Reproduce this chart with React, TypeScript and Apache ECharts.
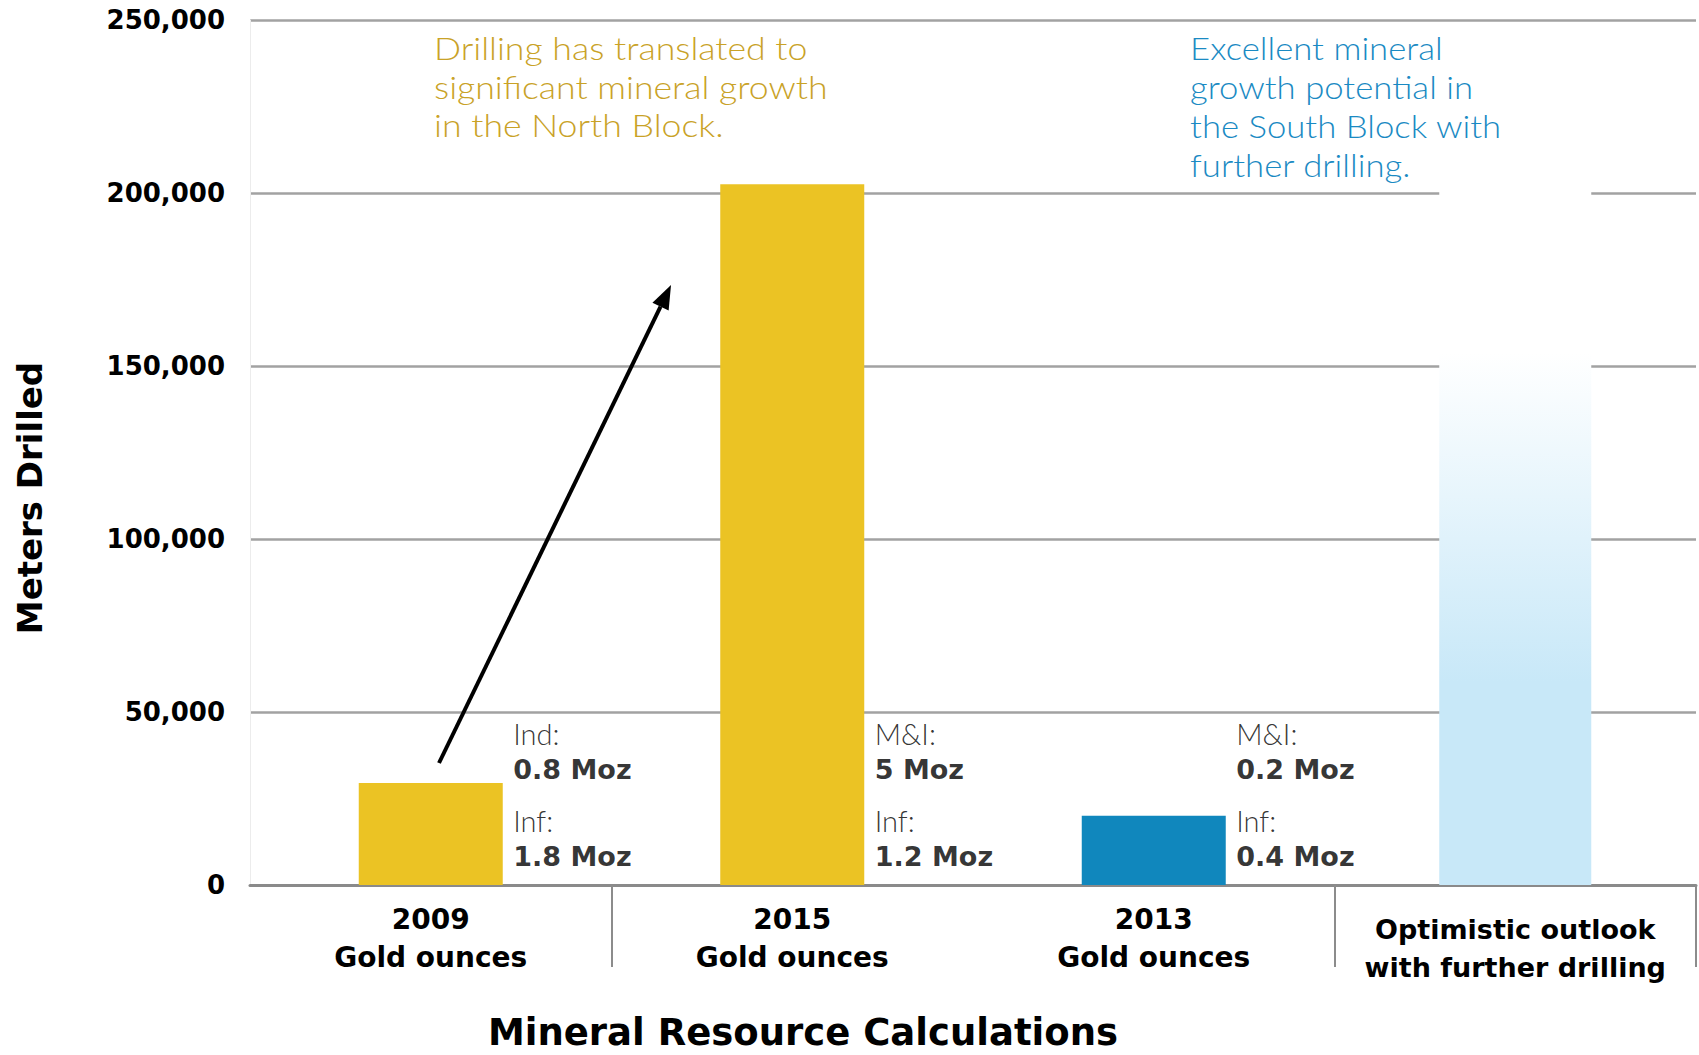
import React, { useEffect, useRef } from "react";
import * as echarts from "echarts";

// Drilling totals (metres) behind each mineral resource calculation
const categories = ["2009", "2015", "2013", "Optimistic"];
const categoryYears = ["2009", "2015", "2013"];
const categorySubtitle = "Gold ounces";
const outlookLabel = ["Optimistic outlook", "with further drilling"];
const metersDrilled = [29500, 202500, 20000];
const outlookMeters = 202500;
const barColors = ["#EBC324", "#EBC324", "#1087BD"];

// Y axis ticks
const yMin = 0;
const yMax = 250000;
const yStep = 50000;

// Resource estimates noted beside each bar
const noteFirstLabel = ["Ind:", "M&I:", "M&I:"];
const noteFirstValue = ["0.8 Moz", "5 Moz", "0.2 Moz"];
const noteSecondLabel = ["Inf:", "Inf:", "Inf:"];
const noteSecondValue = ["1.8 Moz", "1.2 Moz", "0.4 Moz"];
const noteAnchorMeters = 25900;

const northNote = "Drilling has translated to\nsignificant mineral growth\nin the North Block.";
const southNote = "Excellent mineral\ngrowth potential in\nthe South Block with\nfurther drilling.";
const xTitle = "Mineral Resource Calculations";
const yTitle = "Meters Drilled";

const BOLD_FONT = "'DejaVu Sans', Lato, sans-serif";
const LIGHT_FONT = "Lato, 'Open Sans', sans-serif";
const GRID_COLOR = "#a2a2a2";

export default function App() {
  const ref = useRef<HTMLDivElement>(null);

  useEffect(() => {
    document.body.style.margin = "0";
    if (!ref.current) return;
    const chart = echarts.init(ref.current, undefined, { renderer: "svg" });

    // arrow from the 2009 bar towards the 2015 bar
    const arrowStart = [439, 763];
    const arrowTip = [671, 285];
    const dx = arrowTip[0] - arrowStart[0];
    const dy = arrowTip[1] - arrowStart[1];
    const len = Math.sqrt(dx * dx + dy * dy);
    const ux = dx / len;
    const uy = dy / len;
    const headLen = 24;
    const headHalf = 9;
    const bx = arrowTip[0] - ux * headLen;
    const by = arrowTip[1] - uy * headLen;

    const option: any = {
      animation: false,
      backgroundColor: "#ffffff",
      grid: { left: 250, right: 3, top: 20, bottom: 170, containLabel: false },
      xAxis: [
        {
          type: "category",
          data: categories,
          axisLine: { show: true, lineStyle: { color: "#8a8a8a", width: 3 } },
          axisTick: {
            show: true,
            length: 82,
            interval: (index: number) => index === 1 || index === 3,
            lineStyle: { color: "#8c8c8c", width: 2 },
          },
          axisLabel: {
            margin: 15,
            interval: 0,
            formatter: (_v: string, i: number) =>
              i < 3
                ? `{y|${categoryYears[i]}}\n{g|${categorySubtitle}}`
                : `{s| }\n{o|${outlookLabel[0]}}\n{o|${outlookLabel[1]}}`,
            rich: {
              y: { fontFamily: BOLD_FONT, fontWeight: "bold", fontSize: 28, lineHeight: 38, color: "#000" },
              g: { fontFamily: BOLD_FONT, fontWeight: "bold", fontSize: 28, lineHeight: 38, color: "#000" },
              o: { fontFamily: BOLD_FONT, fontWeight: "bold", fontSize: 27, lineHeight: 38, color: "#000" },
              s: { fontSize: 8, lineHeight: 10 },
            },
          },
        },
        { type: "category", data: categories, show: false },
      ],
      yAxis: {
        type: "value",
        min: yMin,
        max: yMax,
        interval: yStep,
        axisLine: { show: true, lineStyle: { color: "#ececec", width: 1 } },
        axisTick: { show: false },
        splitLine: { show: true, lineStyle: { color: GRID_COLOR, width: 2.5 } },
        axisLabel: {
          margin: 25,
          color: "#000",
          fontFamily: BOLD_FONT,
          fontWeight: "bold",
          fontSize: 26,
          formatter: (v: number) => v.toLocaleString("en-US"),
        },
      },
      series: [
        {
          type: "bar",
          xAxisIndex: 0,
          barWidth: 144,
          data: [
            ...metersDrilled.map((v, i) => ({ value: v, itemStyle: { color: barColors[i] } })),
            "-",
          ],
          z: 3,
        },
        {
          type: "bar",
          xAxisIndex: 1,
          barWidth: 152,
          data: [
            "-",
            "-",
            "-",
            {
              value: outlookMeters,
              itemStyle: {
                color: new echarts.graphic.LinearGradient(0, 0, 0, 1, [
                  { offset: 0, color: "#ffffff" },
                  { offset: 0.24, color: "#ffffff" },
                  { offset: 0.71, color: "#C8E8F8" },
                  { offset: 1, color: "#C8E8F8" },
                ]),
              },
            },
          ],
          z: 3,
        },
        {
          type: "scatter",
          xAxisIndex: 0,
          symbolSize: 1,
          itemStyle: { color: "rgba(0,0,0,0)" },
          data: noteFirstLabel.map((_, i) => [i, noteAnchorMeters]),
          z: 4,
          label: {
            show: true,
            position: "right",
            distance: 82,
            align: "left",
            verticalAlign: "middle",
            formatter: (p: any) => {
              const i = p.dataIndex;
              return `{a|${noteFirstLabel[i]}}\n{b|${noteFirstValue[i]}}\n{s| }\n{a|${noteSecondLabel[i]}}\n{b|${noteSecondValue[i]}}`;
            },
            rich: {
              a: { fontFamily: LIGHT_FONT, fontWeight: 300, fontSize: 29, lineHeight: 36, color: "#000" },
              b: { fontFamily: BOLD_FONT, fontWeight: "bold", fontSize: 27, lineHeight: 36, color: "#000" },
              s: { fontSize: 8, lineHeight: 15 },
            },
          },
        },
      ],
      graphic: [
        {
          type: "text",
          x: 434,
          y: 29,
          scaleX: 1.15,
          style: {
            text: northNote,
            fontFamily: LIGHT_FONT,
            fontWeight: 300,
            fontSize: 31,
            lineHeight: 38.5,
            fill: "#C9A227",
            align: "left",
            verticalAlign: "top",
          },
        },
        {
          type: "text",
          x: 1190,
          y: 29,
          scaleX: 1.12,
          style: {
            text: southNote,
            fontFamily: LIGHT_FONT,
            fontWeight: 300,
            fontSize: 31,
            lineHeight: 38.8,
            fill: "#1A8AC3",
            align: "left",
            verticalAlign: "top",
          },
        },
        {
          type: "text",
          x: 30,
          y: 498,
          rotation: Math.PI / 2,
          style: {
            text: yTitle,
            fontFamily: BOLD_FONT,
            fontWeight: "bold",
            fontSize: 34,
            fill: "#000",
            align: "center",
            verticalAlign: "middle",
          },
        },
        {
          type: "text",
          x: 803,
          y: 1032,
          style: {
            text: xTitle,
            fontFamily: BOLD_FONT,
            fontWeight: "bold",
            fontSize: 37,
            fill: "#000",
            align: "center",
            verticalAlign: "middle",
          },
        },
        {
          type: "line",
          shape: { x1: arrowStart[0], y1: arrowStart[1], x2: bx, y2: by },
          style: { stroke: "#000", lineWidth: 4 },
          z: 10,
        },
        {
          type: "polygon",
          shape: {
            points: [
              [arrowTip[0], arrowTip[1]],
              [bx - uy * headHalf, by + ux * headHalf],
              [bx + uy * headHalf, by - ux * headHalf],
            ],
          },
          style: { fill: "#000" },
          z: 10,
        },
      ],
    };

    chart.setOption(option);
    return () => chart.dispose();
  }, []);

  return <div ref={ref} style={{ width: 1699, height: 1055 }} />;
}
